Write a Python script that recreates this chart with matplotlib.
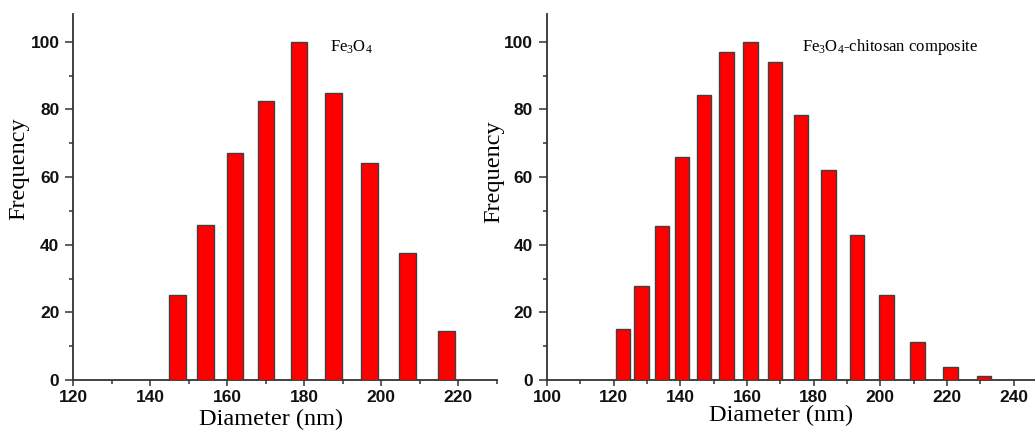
import matplotlib
matplotlib.use("Agg")
import matplotlib.pyplot as plt
from matplotlib.ticker import MultipleLocator

# ---- data ----
fe3o4_diameter = [147.1, 154.3, 162.0, 170.1, 178.6, 187.6, 197.0, 206.8, 217.0]
fe3o4_frequency = [25.0, 45.8, 67.0, 82.4, 100.0, 84.8, 64.0, 37.5, 14.4]

comp_diameter = [122.9, 128.4, 134.5, 140.6, 147.1, 153.8, 161.0, 168.4,
                 176.2, 184.4, 192.9, 201.8, 211.1, 221.0, 231.1]
comp_frequency = [15.0, 27.7, 45.4, 65.9, 84.3, 97.1, 100.0, 94.0,
                  78.4, 62.0, 42.8, 25.0, 11.1, 3.8, 1.3]

left_xticks = [120, 140, 160, 180, 200, 220]
right_xticks = [100, 120, 140, 160, 180, 200, 220, 240]
yticks = [0, 20, 40, 60, 80, 100]

left_title = r"Fe$_3$O$_4$"
right_title = r"Fe$_3$O$_4$-chitosan composite"
xlabel = "Diameter (nm)"
ylabel = "Frequency"

# ---- style ----
plt.rcParams["mathtext.fontset"] = "custom"
plt.rcParams["mathtext.rm"] = "Liberation Serif"
plt.rcParams["mathtext.it"] = "Liberation Serif:italic"
plt.rcParams["mathtext.bf"] = "Liberation Serif:bold"

BAR_W = 4.3
SPINE = "#333333"
serif = "Liberation Serif"
sans = "Liberation Sans"

fig = plt.figure(figsize=(10.35, 4.30), dpi=100)
axL = fig.add_axes([0.0708, 0.1163, 0.4091, 0.8512])
axR = fig.add_axes([0.5285, 0.1163, 0.4831, 0.8512])


def style(ax, xlim, xticks):
    ax.set_xlim(*xlim)
    ax.set_ylim(0, 108.2)
    ax.set_xticks(xticks)
    ax.set_yticks(yticks)
    ax.xaxis.set_minor_locator(MultipleLocator(10))
    ax.yaxis.set_minor_locator(MultipleLocator(10))
    for s in ("top", "right"):
        ax.spines[s].set_visible(False)
    for s in ("left", "bottom"):
        ax.spines[s].set_color(SPINE)
        ax.spines[s].set_linewidth(1.3)
    ax.tick_params(axis="both", which="both", direction="out", color=SPINE, width=1.1)
    ax.tick_params(axis="x", which="major", length=4.5, pad=3.0)
    ax.tick_params(axis="y", which="major", length=5.5, pad=4.5)
    ax.tick_params(axis="both", which="minor", length=3.0)
    for lab in ax.get_xticklabels() + ax.get_yticklabels():
        lab.set_fontfamily(sans)
        lab.set_fontweight("bold")
        lab.set_fontsize(12.5)
        lab.set_color("#111111")


axL.bar(fe3o4_diameter, fe3o4_frequency, width=BAR_W, color="#ff0000",
        edgecolor="#404040", linewidth=1.0, zorder=3)
axR.bar(comp_diameter, comp_frequency, width=BAR_W, color="#ff0000",
        edgecolor="#404040", linewidth=1.0, zorder=3)

style(axL, (120, 230), left_xticks)
style(axR, (100, 250), right_xticks)

for ax, xl, xc, yt, yc in ((axL, -0.105, 0.467, -0.078, 0.578),
                           (axR, -0.086, 0.468, -0.068, 0.570)):
    ax.set_xlabel(xlabel, fontfamily=serif, fontsize=17.5)
    ax.set_ylabel(ylabel, fontfamily=serif, fontsize=17.5)
    ax.xaxis.set_label_coords(xc, yt)
    ax.yaxis.set_label_coords(xl, yc)

axL.text(186.8, 97.2, left_title, fontfamily=serif, fontsize=12,
         ha="left", va="baseline")
axR.text(176.6, 97.2, right_title, fontfamily=serif, fontsize=12,
         ha="left", va="baseline")

fig.savefig("out.png", dpi=100)
